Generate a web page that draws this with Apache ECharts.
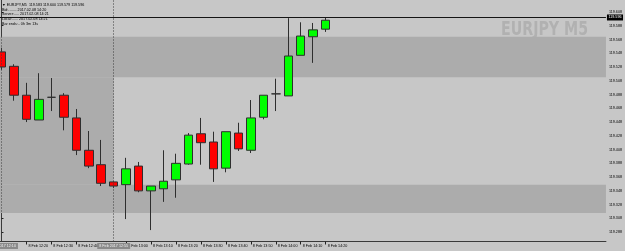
<!DOCTYPE html>
<html><head><meta charset="utf-8">
<script src="https://cdn.jsdelivr.net/npm/echarts@6/dist/echarts.min.js"></script>
<style>html,body{margin:0;padding:0;background:#c6c6c6}#c{width:625px;height:251px}</style>
</head><body><div id="c"></div>
<script>
// ---- data ----
const candleTimes = ['12:10','12:15','12:20','12:25','12:30','12:35','12:40','12:45','12:50','12:55',
  '13:00','13:05','13:10','13:15','13:20','13:25','13:30','13:35','13:40','13:45',
  '13:50','13:55','14:00','14:05','14:10','14:15','14:20'];
const openP  = [119.550,119.529,119.487,119.451,119.484,119.487,119.454,119.407,119.386,119.361,
  119.357,119.384,119.348,119.351,119.364,119.387,119.431,119.419,119.381,119.432,
  119.407,119.455,119.489,119.486,119.545,119.572,119.583];
const closeP = [119.528,119.487,119.452,119.481,119.484,119.455,119.407,119.384,119.359,119.355,
  119.380,119.348,119.355,119.362,119.388,119.429,119.418,119.380,119.434,119.409,
  119.454,119.487,119.489,119.544,119.573,119.582,119.596];
const lowP   = [119.524,119.479,119.448,119.451,119.464,119.436,119.400,119.381,119.355,119.352,
  119.307,119.346,119.291,119.332,119.338,119.386,119.386,119.361,119.375,119.406,
  119.403,119.452,119.464,119.486,119.545,119.534,119.579];
const highP  = [119.556,119.532,119.505,119.519,119.512,119.490,119.467,119.435,119.422,119.362,
  119.396,119.390,119.355,119.407,119.402,119.432,119.454,119.434,119.434,119.447,
  119.480,119.487,119.511,119.599,119.593,119.592,119.600];
const yTickValues = [119.608,119.588,119.568,119.548,119.528,119.508,119.488,119.468,119.448,
  119.428,119.408,119.388,119.368,119.348,119.328,119.308,119.288];
const xTickIdx = [2,4,6,10,12,14,16,18,20,22,24,26];
const vLineIdx = [0, 9];
const vLineLabels = ['8 Feb 2017 12:10', '8 Feb 2017 12:55'];
const lastPrice = 119.596;
const zonesFull = [[119.572,119.513],[119.357,119.316]];
const zoneLeft = [119.513,119.357];
const infoLines = ['\u25BC EURJPY,M5  119.583 119.600 119.579 119.596',
  'Bid:........ 2017.02.08 14:20',
  'Server:..... 2017.02.08 14:21',
  'Local:...... 2017.02.08 14:21',
  'Bar ends:.. 0h 3m 13s'];

// ---- chart ----
const X_MIN = -0.12, X_MAX = 48.48;
const FONT = 'Liberation Sans';
const FS = 3.7;
const candleData = candleTimes.map((t, i) => [i, openP[i], closeP[i], lowP[i], highP[i]]);

const markAreaData = zonesFull.map(z => [{yAxis: z[0]}, {yAxis: z[1]}]);
markAreaData.push([{xAxis: X_MIN, yAxis: zoneLeft[0]}, {xAxis: vLineIdx[1], yAxis: zoneLeft[1]}]);

const markLineData = vLineIdx.map((v, k) => ({
  xAxis: v,
  lineStyle: {color: '#3c3c3c', type: [1, 2], width: 1},
  label: {show: true, position: 'start', formatter: vLineLabels[k], distance: 1.5,
    backgroundColor: '#8a8a8a', color: '#f0f0f0', padding: [1, 2], fontSize: FS, fontFamily: FONT}
}));
markLineData.push({
  yAxis: lastPrice,
  lineStyle: {color: '#151515', type: 'solid', width: 1},
  label: {show: true, position: 'end', formatter: lastPrice.toFixed(3), distance: 1,
    backgroundColor: '#000', color: '#fff', padding: [1, 1.5], fontSize: FS, fontFamily: FONT}
});

const graphics = infoLines.map((s, i) => ({
  type: 'text', x: 2, y: [4.5, 9.5, 14.2, 19, 24][i], z: 10,
  style: {text: s, fill: '#000', fontSize: FS, fontFamily: FONT, align: 'left', verticalAlign: 'middle'}
}));
graphics.push({
  type: 'text', x: 501, y: 20, scaleX: 0.71, z: 1,
  style: {text: 'EURJPY M5', fill: '#b1b1b1', fontSize: 20, fontWeight: 'bold', fontFamily: 'DejaVu Sans',
    align: 'left', verticalAlign: 'top'}
});

const chart = echarts.init(document.getElementById('c'), null, {renderer: 'canvas'});
chart.setOption({
  animation: false,
  backgroundColor: '#c7c7c7',
  grid: {left: 0, right: 17.5, top: 0, bottom: 9.5, containLabel: false},
  xAxis: {
    type: 'value', min: X_MIN, max: X_MAX,
    splitLine: {show: false},
    axisLine: {show: true, lineStyle: {color: '#3a3a3a', width: 1}},
    axisTick: {show: true, customValues: xTickIdx, length: 3, lineStyle: {color: '#222'}},
    axisLabel: {show: true, customValues: xTickIdx, align: 'left', margin: 2, padding: [0, 0, 0, 2],
      fontSize: FS, fontFamily: FONT, color: '#000',
      formatter: v => '8 Feb ' + candleTimes[Math.round(v)]}
  },
  yAxis: {
    type: 'value', position: 'right', min: 119.2744, max: 119.6254, scale: true,
    splitLine: {show: false},
    axisLine: {show: true, lineStyle: {color: '#3a3a3a', width: 1}},
    axisTick: {show: true, customValues: yTickValues, length: 2, lineStyle: {color: '#222'}},
    axisLabel: {show: true, customValues: yTickValues, margin: 3, fontSize: FS, fontFamily: FONT, color: '#000',
      formatter: v => v.toFixed(3)}
  },
  graphic: graphics,
  series: [{
    type: 'candlestick',
    dimensions: ['idx', 'open', 'close', 'lowest', 'highest'],
    encode: {x: 'idx', y: ['open', 'close', 'lowest', 'highest']},
    data: candleData,
    barWidth: 9,
    clip: true,
    itemStyle: {color: '#00ff00', color0: '#ff0000', borderColor: '#2e2e2e', borderColor0: '#2e2e2e', borderWidth: 1},
    emphasis: {disabled: true},
    markArea: {silent: true, itemStyle: {color: '#acacac'}, data: markAreaData},
    markLine: {silent: true, symbol: 'none', animation: false, data: markLineData}
  }]
});
</script></body></html>
